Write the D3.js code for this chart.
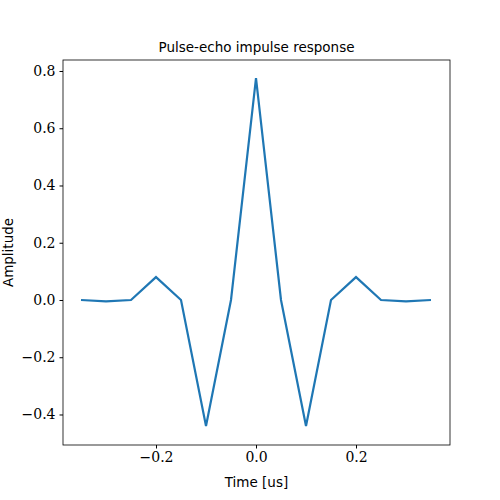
<!DOCTYPE html>
<html><head><meta charset="utf-8">
<script src="https://d3js.org/d3.v7.min.js"></script>
<style>body{margin:0;background:#fff}</style></head>
<body><svg id="c" width="500" height="500"></svg>
<script>
const times = [-0.35,-0.3,-0.25,-0.2,-0.15,-0.1,-0.05,0,0.05,0.1,0.15,0.2,0.25,0.3,0.35];
const amplitude = [0,-0.005,0,0.08,0,-0.44,0,0.775,0,-0.44,0,0.08,0,-0.005,0];
const xTicks = [-0.2,0,0.2];
const yTicks = [-0.4,-0.2,0,0.2,0.4,0.6,0.8];
const svg = d3.select("#c");
const L=63,R=450,T=60,B=445;
const x = d3.scaleLinear().domain([-0.386,0.388]).range([L,R]);
const y = d3.scaleLinear().domain([-0.5066,0.8384]).range([B,T]);
const fmt = d => (d<0?"\u2212":"")+Math.abs(d).toFixed(1);
const gx = svg.append("g").attr("transform",`translate(0,${B})`)
  .call(d3.axisBottom(x).tickValues(xTicks).tickFormat(fmt).tickSize(3.5).tickPadding(4));
const gy = svg.append("g").attr("transform",`translate(${L},0)`)
  .call(d3.axisLeft(y).tickValues(yTicks).tickFormat(fmt).tickSize(3.5).tickPadding(4));
[gx,gy].forEach(g=>{g.select(".domain").remove();g.selectAll("text").attr("font-family","DejaVu Serif").attr("font-size",14).attr("fill","#000");g.selectAll("line").attr("stroke","#000");});
svg.append("rect").attr("x",L).attr("y",T).attr("width",R-L).attr("height",B-T).attr("fill","none").attr("stroke","#000").attr("stroke-width",0.8);
svg.append("path").datum(times.map((t,i)=>[t,amplitude[i]]))
  .attr("d",d3.line().x(d=>x(d[0])).y(d=>y(d[1])))
  .attr("fill","none").attr("stroke","#1f77b4").attr("stroke-width",2.2);
svg.append("text").attr("x",(L+R)/2).attr("y",52).attr("text-anchor","middle").attr("font-family","DejaVu Sans").attr("font-size",13.5).text("Pulse-echo impulse response");
svg.append("text").attr("x",(L+R)/2).attr("y",487).attr("text-anchor","middle").attr("font-family","DejaVu Sans").attr("font-size",13.5).text("Time [us]");
svg.append("text").attr("transform",`translate(13,${(T+B)/2}) rotate(-90)`).attr("text-anchor","middle").attr("font-family","DejaVu Sans").attr("font-size",13.5).text("Amplitude");
</script></body></html>
